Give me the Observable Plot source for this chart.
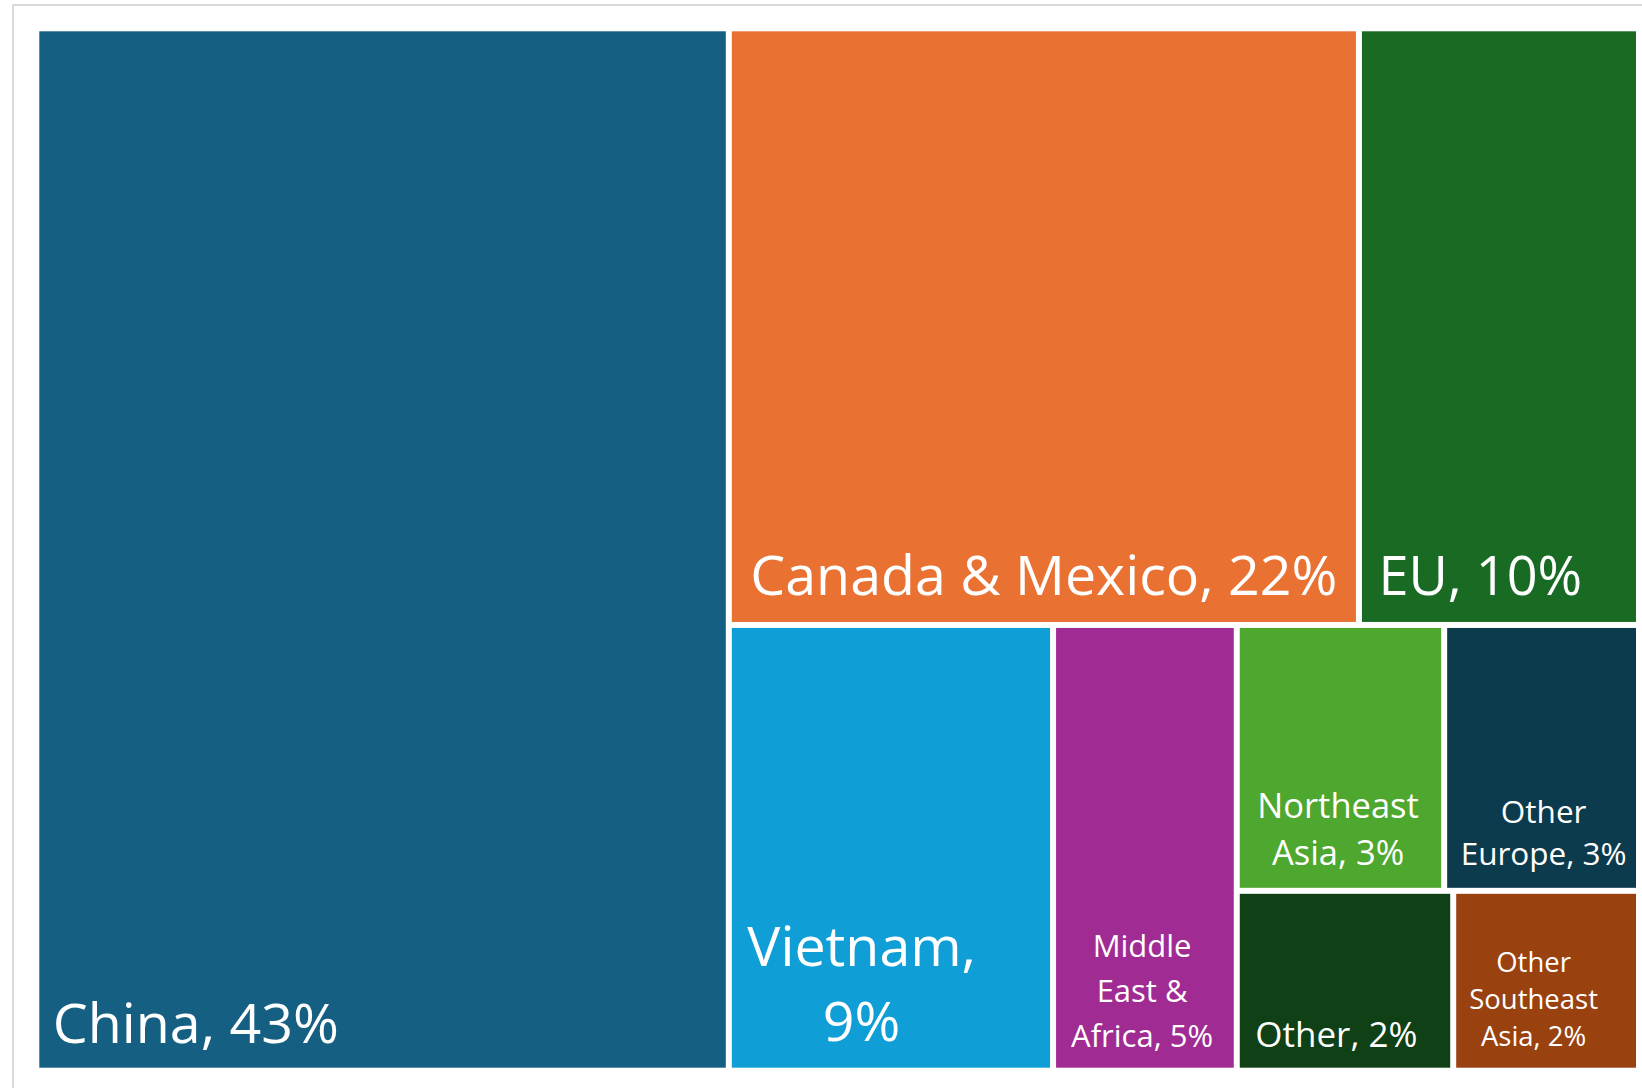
<!DOCTYPE html>
<html>
<head>
<meta charset="utf-8">
<script src="https://cdn.jsdelivr.net/npm/d3@7"></script>
<script src="https://cdn.jsdelivr.net/npm/@observablehq/plot@0.6"></script>
<style>
  html, body { margin: 0; padding: 0; background: #fff; overflow: hidden; }
  #wrap { position: relative; width: 1642px; height: 1088px; }
  #frame { position: absolute; left: 12px; top: 4px; width: 1700px; height: 1200px;
           border-left: 2px solid #dadada; border-top: 2px solid #dadada; pointer-events: none; }
  #chart { position: absolute; left: 0; top: 0; }
</style>
</head>
<body>
<div id="wrap"><div id="chart"></div><div id="frame"></div></div>
<script>
// ---- data ----
const names = ["China", "Canada & Mexico", "EU", "Vietnam", "Middle East & Africa",
               "Northeast Asia", "Other Europe", "Other", "Other Southeast Asia"];
const shares = [43.2, 22.5, 10.0, 8.65, 4.9, 3.3, 3.1, 2.33, 2.0];
const labels = ["China, 43%", "Canada & Mexico, 22%", "EU, 10%", "Vietnam,\n9%",
                "Middle\nEast &\nAfrica, 5%", "Northeast\nAsia, 3%", "Other\nEurope, 3%",
                "Other, 2%", "Other\nSoutheast\nAsia, 2%"];
// nesting of the treemap (groups split alternately across / down)
const groups = [[], ["R", "T"], ["R", "T"], ["R", "B"], ["R", "B"],
                ["R", "B", "S", "T"], ["R", "B", "S", "T"], ["R", "B", "S", "B"], ["R", "B", "S", "B"]];
const colors = ["#156082", "#E97132", "#196B24", "#0F9ED5", "#A02B93",
                "#4EA72E", "#0D3B4E", "#0F4016", "#9A4110"];

// ---- label styles ----
const FONT = "Open Sans";
const labelStyle = {
  "China":                {size: 55.5, lh: 1.3,  pad: 13, bottom: 25},
  "Canada & Mexico":      {size: 55.5, lh: 1.3,  pad: 18, bottom: 27.5},
  "EU":                   {size: 54,   lh: 1.3,  pad: 16, bottom: 27.5},
  "Vietnam":              {size: 55.5, lh: 1.35, pad: 15, bottom: 27},
  "Middle East & Africa": {size: 31,   lh: 1.445,pad: 14.5, bottom: 21.5},
  "Northeast Asia":       {size: 34.5, lh: 1.374,pad: 17, bottom: 23.3},
  "Other Europe":         {size: 31.5, lh: 1.33, pad: 13, bottom: 23},
  "Other":                {size: 35,   lh: 1.3,  pad: 15, bottom: 21},
  "Other Southeast Asia": {size: 27.5, lh: 1.356,pad: 12.5, bottom: 22}
};

// ---- hierarchy ----
const root = {name: "root", children: []};
names.forEach((n, i) => {
  let node = root;
  for (const g of groups[i]) {
    let c = node.children.find(d => d.name === g && d.children);
    if (!c) { c = {name: g, children: []}; node.children.push(c); }
    node = c;
  }
  node.children.push({name: n, value: shares[i], label: labels[i], color: colors[i]});
});

const width = 1642, height = 1088;
const mL = 39.3, mR = 6, mT = 31.3, mB = 20.3;
const W = width - mL - mR, H = height - mT - mB;

const h = d3.hierarchy(root).sum(d => d.value || 0);
d3.treemap().tile(d3.treemapSliceDice).size([W, H]).paddingInner(6)(h);
const leaves = h.leaves();

const ctx = document.createElement("canvas").getContext("2d");
function blockWidth(text, size) {
  ctx.font = `${size}px "${FONT}"`;
  return d3.max(text.split("\n"), l => ctx.measureText(l).width);
}

const textMarks = leaves.map(leaf => {
  const s = labelStyle[leaf.data.name];
  const multi = leaf.data.label.includes("\n");
  const bw = blockWidth(leaf.data.label, s.size);
  return Plot.text([leaf], {
    x: d => d.x0, y: d => d.y1, text: d => d.data.label,
    textAnchor: multi ? "middle" : "start", lineAnchor: "bottom",
    dx: s.pad + (multi ? bw / 2 : 0), dy: -s.bottom,
    fontSize: s.size, lineHeight: s.lh, fill: "white",
    fontFamily: FONT
  });
});

const chart = Plot.plot({
  width, height,
  marginLeft: mL, marginRight: mR, marginTop: mT, marginBottom: mB,
  x: {domain: [0, W], axis: null},
  y: {domain: [0, H], reverse: true, axis: null},
  style: {background: "transparent", fontFamily: FONT},
  marks: [
    Plot.rect(leaves, {x1: "x0", x2: "x1", y1: "y0", y2: "y1", fill: d => d.data.color}),
    ...textMarks
  ]
});
document.getElementById("chart").appendChild(chart);
</script>
</body>
</html>
